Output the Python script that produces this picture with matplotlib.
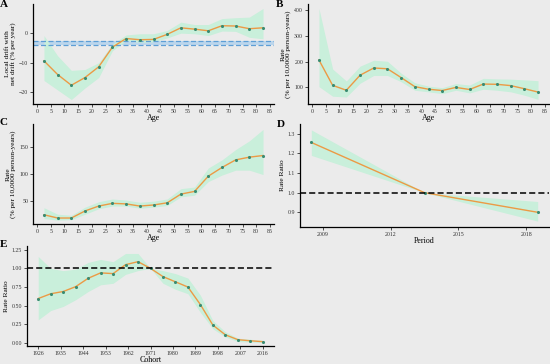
import matplotlib.pyplot as plt

plt.rcParams['font.family'] = ['Liberation Serif', 'DejaVu Serif']

# Age groups (midpoints)
ages = [2.5, 7.5, 12.5, 17.5, 22.5, 27.5, 32.5, 37.5, 42.5, 47.5,
        52.5, 57.5, 62.5, 67.5, 72.5, 77.5, 82.5]

# A: local drift
drift = [-9.4, -14.0, -17.6, -15.0, -11.4, -4.8, -1.9, -2.3, -2.2, -0.5,
         1.7, 1.25, 0.7, 2.4, 2.3, 1.4, 1.7]
drift_lo = [-16.0, -19.2, -22.4, -18.5, -15.0, -6.0, -2.6, -3.2, -3.0, -1.7,
            -0.1, -0.3, -0.9, 0.6, 0.5, -1.5, -2.0]
drift_hi = [-0.9, -7.7, -12.6, -12.3, -10.0, -3.7, -0.7, -0.3, -0.3, 0.8,
            3.6, 2.8, 2.8, 4.8, 5.1, 5.3, 8.2]
net_drift_lo = -4.0
net_drift_hi = -2.9

# B: longitudinal age curve
rate_b = [206, 108, 89, 147, 175, 172, 138, 103, 93, 88,
          100, 92, 113, 112, 107, 95, 82]
rate_b_lo = [103, 66, 63, 116, 146, 146, 122, 89, 83, 76,
             89, 79, 93, 89, 83, 70, 54]
rate_b_hi = [405, 171, 125, 182, 205, 201, 155, 118, 105, 99,
             115, 109, 135, 133, 132, 129, 126]

# C: cross-sectional age curve
rate_c = [25, 19, 19, 32, 41, 46, 45, 41, 43, 47,
          63, 68, 96, 112, 126, 131, 134]
rate_c_lo = [18, 15, 16, 26, 36, 41, 41, 37, 39, 42,
             58, 61, 86, 98, 107, 107, 99]
rate_c_hi = [38, 26, 24, 39, 49, 54, 52, 48, 50, 54,
             73, 76, 111, 126, 145, 161, 182]

# D: period rate ratios
periods = [2008.5, 2013.5, 2018.5]
rr_p = [1.256, 1.0, 0.90]
rr_p_lo = [1.19, 1.0, 0.855]
rr_p_hi = [1.32, 1.0, 0.955]
period_ticks = [2009, 2012, 2015, 2018]

# E: cohort rate ratios
cohorts = [1926, 1931, 1936, 1941, 1946, 1951, 1956, 1961, 1966, 1971,
           1976, 1981, 1986, 1991, 1996, 2001, 2006, 2011, 2016]
rr_c = [0.596, 0.66, 0.69, 0.755, 0.867, 0.94, 0.93, 1.05, 1.09, 1.0,
        0.89, 0.82, 0.75, 0.515, 0.24, 0.11, 0.045, 0.03, 0.018]
rr_c_lo = [0.31, 0.435, 0.49, 0.58, 0.69, 0.78, 0.80, 0.92, 0.97, 1.0,
           0.80, 0.72, 0.66, 0.41, 0.19, 0.08, 0.02, 0.013, 0.005]
rr_c_hi = [1.16, 1.0, 0.97, 0.99, 1.08, 1.12, 1.09, 1.2, 1.2, 1.0,
           0.97, 0.93, 0.87, 0.64, 0.30, 0.15, 0.065, 0.05, 0.035]
cohort_ticks = [1926, 1935, 1944, 1953, 1962, 1971, 1980, 1989, 1998, 2007, 2016]

age_ticks = list(range(0, 90, 5))

BG = '#ebebeb'
RIBBON = '#c9efdb'
LINE = '#ec9a45'
POINT = '#3a8c72'
W, H = 550, 364

fig = plt.figure(figsize=(5.5, 3.64), dpi=100, facecolor=BG)


def make_axes(x0, y0, x1, y1):
    ax = fig.add_axes([x0 / W, 1 - y1 / H, (x1 - x0) / W, (y1 - y0) / H])
    ax.set_facecolor(BG)
    for s in ['top', 'right']:
        ax.spines[s].set_visible(False)
    for s in ['left', 'bottom']:
        ax.spines[s].set_linewidth(0.9)
    ax.tick_params(labelsize=4.2, length=2, width=0.6, pad=1.5, colors='#333333')
    return ax


def draw_curve(ax, x, y, lo, hi):
    ax.fill_between(x, lo, hi, color=RIBBON, lw=0)
    ax.plot(x, y, color=LINE, lw=1.0, zorder=3)
    ax.scatter(x, y, s=5, color=POINT, zorder=4, lw=0)


def labels(ax, xl, yl):
    ax.set_xlabel(xl, fontsize=5.8, labelpad=0)
    ax.set_ylabel(yl, fontsize=5.3, labelpad=2, linespacing=0.95)


# Panel A
axA = make_axes(33, 4, 274, 104)
axA.axhspan(net_drift_lo, net_drift_hi, color='#bcd6ec', lw=0, zorder=1)
axA.axhline(net_drift_lo, color='#5e9fd6', lw=0.9, ls=(0, (4, 2)), zorder=2)
axA.axhline(net_drift_hi, color='#5e9fd6', lw=0.9, ls=(0, (4, 2)), zorder=2)
draw_curve(axA, ages, drift, drift_lo, drift_hi)
axA.set_xlim(-1.5, 86.5)
axA.set_ylim(-23.9, 9.7)
axA.set_xticks(age_ticks)
axA.set_yticks([-20, -10, 0])
labels(axA, 'Age', 'Local drift with\nnet drift (% per year)')

# Panel B
axB = make_axes(308, 4, 549, 104)
draw_curve(axB, ages, rate_b, rate_b_lo, rate_b_hi)
axB.set_xlim(-1.5, 86.5)
axB.set_ylim(36, 422)
axB.set_xticks(age_ticks)
axB.set_yticks([100, 200, 300, 400])
labels(axB, 'Age', 'Rate\n(% per 10,0000 person-years)')

# Panel C
axC = make_axes(33, 124, 274, 224)
draw_curve(axC, ages, rate_c, rate_c_lo, rate_c_hi)
axC.set_xlim(-1.5, 86.5)
axC.set_ylim(8, 192)
axC.set_xticks(age_ticks)
axC.set_yticks([50, 100, 150])
labels(axC, 'Age', 'Rate\n(% per 10,0000 person-years)')

# Panel D
axD = make_axes(300, 124, 549, 227)
axD.axhline(1.0, color='black', lw=1.1, ls=(0, (4, 2)), zorder=5)
draw_curve(axD, periods, rr_p, rr_p_lo, rr_p_hi)
axD.set_xlim(2008, 2019)
axD.set_ylim(0.825, 1.35)
axD.set_xticks(period_ticks)
axD.set_yticks([0.9, 1.0, 1.1, 1.2, 1.3])
axD.set_yticklabels(['0.9', '1.0', '1.1', '1.2', '1.3'])
labels(axD, 'Period', 'Rate Ratio')

# Panel E
axE = make_axes(27, 246, 274, 346)
axE.axhline(1.0, color='black', lw=1.1, ls=(0, (4, 2)), zorder=5)
draw_curve(axE, cohorts, rr_c, rr_c_lo, rr_c_hi)
axE.set_xlim(1921.5, 2020.5)
axE.set_ylim(-0.04, 1.30)
axE.set_xticks(cohort_ticks)
axE.set_yticks([0, 0.25, 0.5, 0.75, 1.0, 1.25])
axE.set_yticklabels(['0.00', '0.25', '0.50', '0.75', '1.00', '1.25'])
labels(axE, 'Cohort', 'Rate Ratio')

# Panel letters
for letter, px, py in [('A', 0, 0), ('B', 276, 0), ('C', 0, 118),
                       ('D', 277, 120), ('E', 0, 240)]:
    fig.text(px / W, 1 - py / H, letter, fontsize=8, fontweight='bold',
             va='top', ha='left')

fig.savefig('out.png', dpi=100, facecolor=BG)
